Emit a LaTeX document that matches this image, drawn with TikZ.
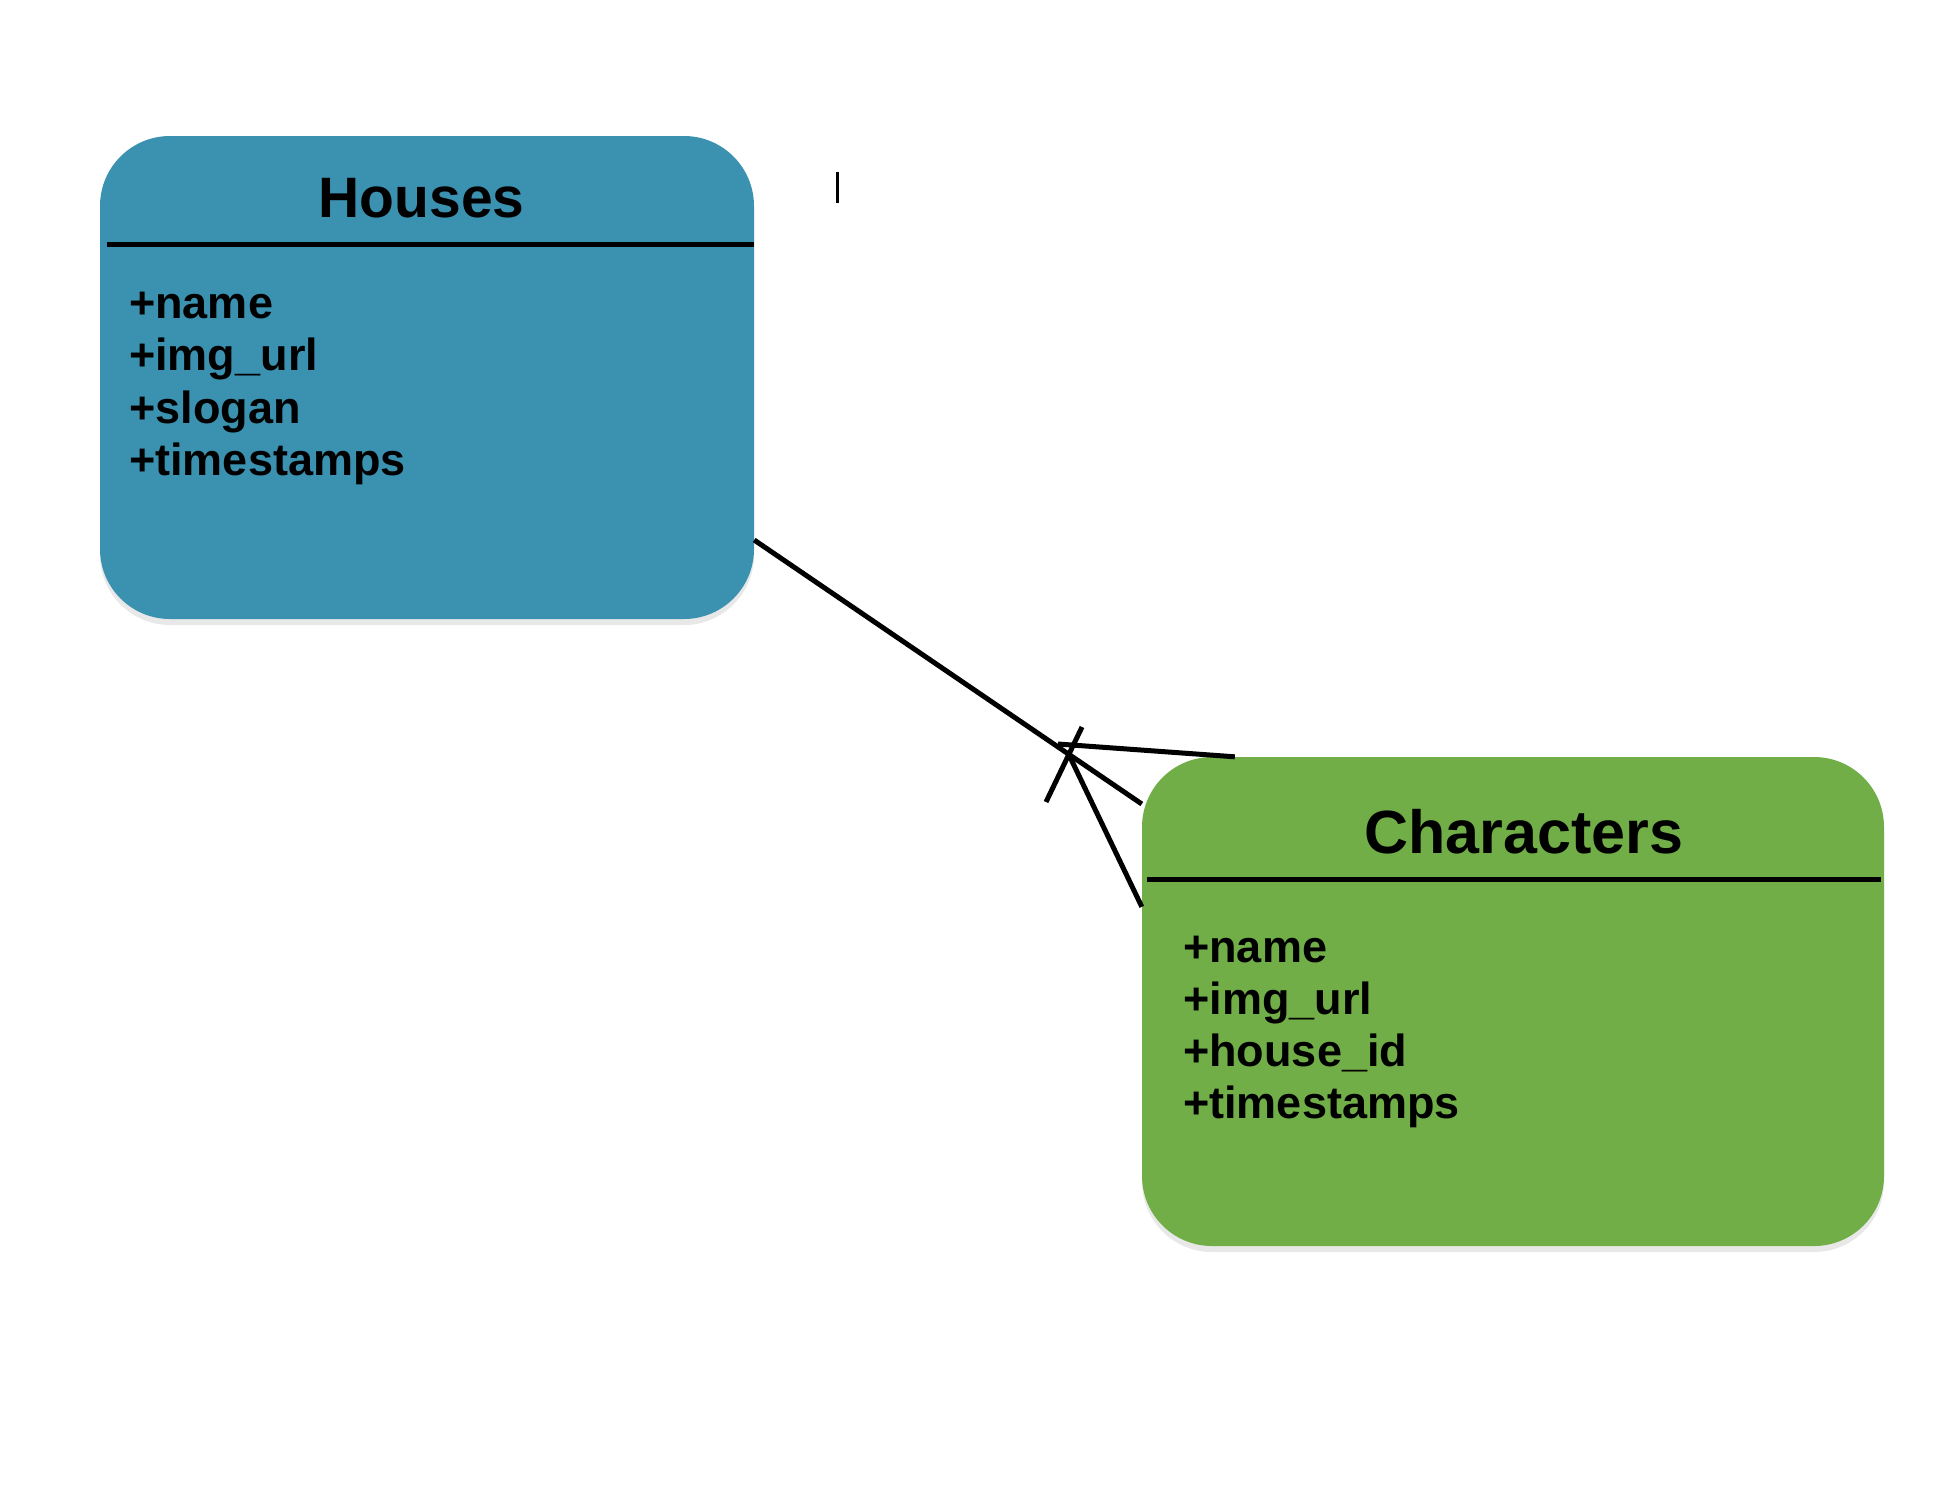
\documentclass[tikz,border=0pt]{standalone}
\usepackage{fontspec}
\setmainfont{Liberation Sans}
\usetikzlibrary{shadows}

\definecolor{houseblue}{RGB}{58,146,176}
\definecolor{chargreen}{RGB}{113,174,72}

\tikzset{
  table/.style={rectangle, rounded corners=70pt, inner sep=0pt,
    drop shadow={shadow xshift=0pt, shadow yshift=-6pt, opacity=0.18}},
  tabletitle/.style={anchor=base, inner sep=0pt, font=\bfseries\fontsize{57}{57}\selectfont},
  attr/.style={anchor=base west, inner sep=0pt, font=\bfseries\fontsize{45}{52}\selectfont},
  rule/.style={line width=5pt},
  link/.style={line width=5pt}
}

\begin{document}
\begin{tikzpicture}[x=1pt,y=-1pt]
  \useasboundingbox (0,0) rectangle (1934,1492);

  \node[table, fill=houseblue, minimum width=654pt, minimum height=483pt] (houses) at (427,377.5) {};
  \node[tabletitle] (housestitle) at (421.5,217) {Houses};
  \draw[rule] ([xshift=7pt]houses.west |- 0,244) -- (houses.east |- 0,244);
  \foreach \attr [count=\i] in {name,img\_url,slogan,timestamps}
    \node[attr] (h\i) at (129,{318+52.5*(\i-1)}) {+\attr};

  \node[table, fill=chargreen, minimum width=742pt, minimum height=489pt] (characters) at (1513,1001.5) {};
  \node[tabletitle, font=\bfseries\fontsize{61}{61}\selectfont] (charstitle) at (1524,853) {Characters};
  \draw[rule] ([xshift=5pt]characters.west |- 0,879) -- ([xshift=-3pt]characters.east |- 0,879);
  \foreach \attr [count=\i] in {name,img\_url,house\_id,timestamps}
    \node[attr] (c\i) at (1183,{962+52*(\i-1)}) {+\attr};

  \coordinate (cftop) at (1058,744);
  \coordinate (cfmid) at (1070,757);
  \coordinate (barA) at (1082,727);
  \coordinate (barB) at (1046,802);
  \draw[link] ([yshift=-162.5pt]houses.east) -- ([yshift=197.5pt]characters.west);
  \draw[link] (cftop) -- ([xshift=93pt]characters.north west);
  \draw[link] (cfmid) -- ([yshift=-150pt]characters.north west);
  \draw[link] (barA) -- (barB);

  \draw[line width=3pt] (837,172) -- (837,203);
\end{tikzpicture}
\end{document}
